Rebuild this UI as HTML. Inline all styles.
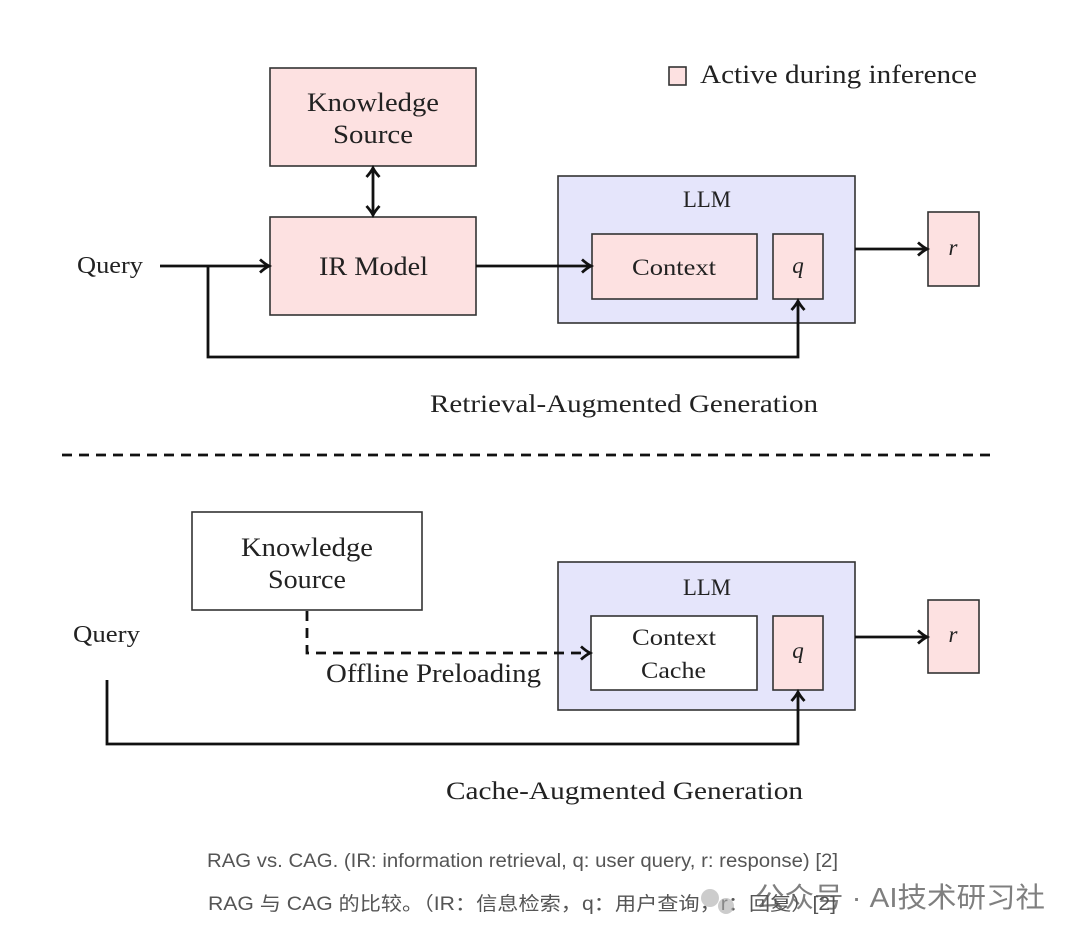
<!DOCTYPE html>
<html><head><meta charset="utf-8"><style>
html,body{margin:0;padding:0;background:#fff;}
svg{display:block;}
.s{font-family:"Liberation Serif",serif;fill:#222;}
.c{font-family:"Liberation Sans","Noto Sans CJK SC",sans-serif;fill:#555;}
</style></head><body>
<svg width="1080" height="940" viewBox="0 0 1080 940" xmlns="http://www.w3.org/2000/svg">
<defs>
<marker id="a" markerWidth="16" markerHeight="16" refX="12" refY="8" orient="auto" markerUnits="userSpaceOnUse">
<path d="M3,1.5 Q8,6 12,8 Q8,10 3,14.5" fill="none" stroke="#111" stroke-width="2.8"/>
</marker>
</defs>
<g stroke="#333" stroke-width="1.6">
<rect x="270" y="68" width="206" height="98" fill="#fde1e1"/>
<rect x="270" y="217" width="206" height="98" fill="#fde1e1"/>
<rect x="558" y="176" width="297" height="147" fill="#e5e5fb"/>
<rect x="592" y="234" width="165" height="65" fill="#fde1e1"/>
<rect x="773" y="234" width="50" height="65" fill="#fde1e1"/>
<rect x="928" y="212" width="51" height="74" fill="#fde1e1"/>
<rect x="669" y="67" width="17" height="18" fill="#fde1e1"/>
<rect x="192" y="512" width="230" height="98" fill="#fff"/>
<rect x="558" y="562" width="297" height="148" fill="#e5e5fb"/>
<rect x="591" y="616" width="166" height="74" fill="#fff"/>
<rect x="773" y="616" width="50" height="74" fill="#fde1e1"/>
<rect x="928" y="600" width="51" height="73" fill="#fde1e1"/>
</g>
<g stroke="#111" stroke-width="2.8" fill="none">
<line x1="160" y1="266" x2="269" y2="266" marker-end="url(#a)"/>
<polyline points="208,266 208,357 798,357 798,301" marker-end="url(#a)"/>
<line x1="476" y1="266" x2="591" y2="266" marker-end="url(#a)"/>
<line x1="855" y1="249" x2="927" y2="249" marker-end="url(#a)"/>
<line x1="373" y1="190" x2="373" y2="168" marker-end="url(#a)"/>
<line x1="373" y1="190" x2="373" y2="215" marker-end="url(#a)"/>
<line x1="62" y1="455" x2="990" y2="455" stroke-dasharray="10,7"/>
<polyline points="107,680 107,744 798,744 798,692" marker-end="url(#a)"/>
<line x1="855" y1="637" x2="927" y2="637" marker-end="url(#a)"/>
<polyline points="307,611 307,653 590,653" stroke-dasharray="10,7" marker-end="url(#a)"/>
</g>
<g class="s" font-size="26" lengthAdjust="spacingAndGlyphs">
<text x="307" y="111" textLength="132" lengthAdjust="spacingAndGlyphs">Knowledge</text>
<text x="333" y="143" textLength="80" lengthAdjust="spacingAndGlyphs">Source</text>
<text x="319" y="275" textLength="109" lengthAdjust="spacingAndGlyphs">IR Model</text>
<text x="683" y="207" font-size="23" textLength="48" lengthAdjust="spacingAndGlyphs">LLM</text>
<text x="632" y="275" font-size="23" textLength="84" lengthAdjust="spacingAndGlyphs">Context</text>
<text x="798" y="273" font-style="italic" font-size="23" text-anchor="middle">q</text>
<text x="953" y="255" font-style="italic" font-size="23" text-anchor="middle">r</text>
<text x="77" y="273" font-size="24" textLength="66" lengthAdjust="spacingAndGlyphs">Query</text>
<text x="430" y="412" font-size="25" textLength="388" lengthAdjust="spacingAndGlyphs">Retrieval-Augmented Generation</text>
<text x="241" y="556" textLength="132" lengthAdjust="spacingAndGlyphs">Knowledge</text>
<text x="268" y="588" textLength="78" lengthAdjust="spacingAndGlyphs">Source</text>
<text x="683" y="595" font-size="23" textLength="48" lengthAdjust="spacingAndGlyphs">LLM</text>
<text x="632" y="645" font-size="23" textLength="84" lengthAdjust="spacingAndGlyphs">Context</text>
<text x="641" y="678" font-size="23" textLength="65" lengthAdjust="spacingAndGlyphs">Cache</text>
<text x="798" y="658" font-style="italic" font-size="23" text-anchor="middle">q</text>
<text x="953" y="642" font-style="italic" font-size="23" text-anchor="middle">r</text>
<text x="73" y="642" font-size="24" textLength="67" lengthAdjust="spacingAndGlyphs">Query</text>
<text x="326" y="682" textLength="215" lengthAdjust="spacingAndGlyphs">Offline Preloading</text>
<text x="446" y="799" font-size="25" textLength="357" lengthAdjust="spacingAndGlyphs">Cache-Augmented Generation</text>
<text x="700" y="83" textLength="277" lengthAdjust="spacingAndGlyphs">Active during inference</text>
</g>
<text class="c" x="207" y="867" font-size="19" textLength="631" lengthAdjust="spacingAndGlyphs">RAG vs. CAG. (IR: information retrieval, q: user query, r: response) [2]</text>
<text class="c" x="208" y="910" font-size="19" textLength="628" lengthAdjust="spacingAndGlyphs">RAG 与 CAG 的比较。（IR：信息检索，q：用户查询，r：回复）[2]</text>
<circle cx="710" cy="898" r="9" fill="#aaa" opacity="0.6"/>
<circle cx="726" cy="906" r="8" fill="#aaa" opacity="0.6"/>
<text class="c" x="755" y="907" font-size="28" fill="#999" opacity="0.75" textLength="290" lengthAdjust="spacingAndGlyphs">公众号 · AI技术研习社</text>
</svg>
</body></html>
